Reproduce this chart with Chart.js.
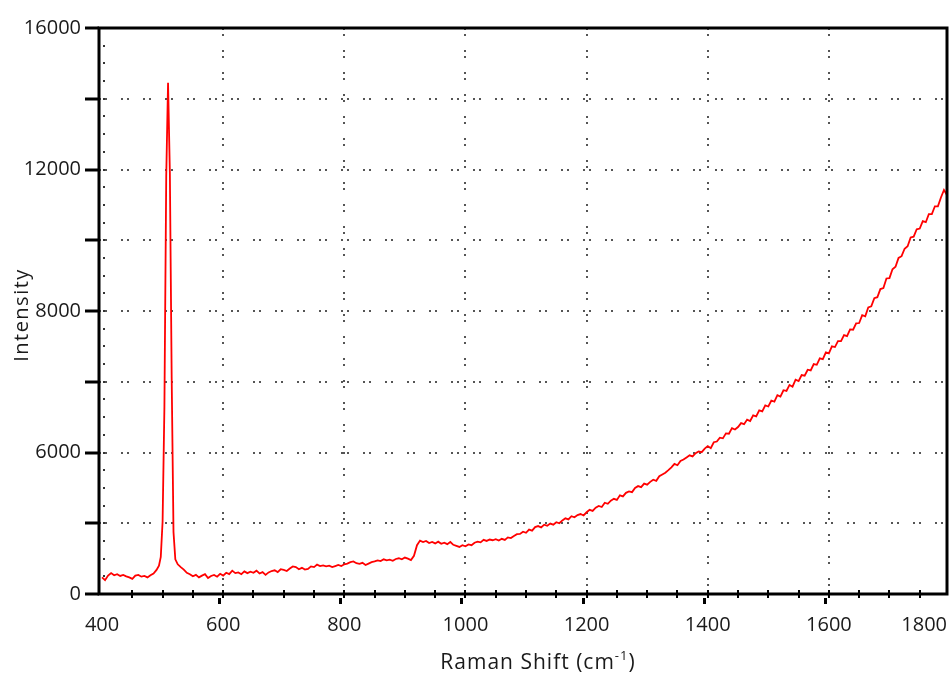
<!DOCTYPE html>
<html>
<head>
<meta charset="utf-8">
<script src="https://cdn.jsdelivr.net/npm/chart.js@4"></script>
<style>
  body { margin: 0; background: #fff; }
</style>
</head>
<body>
<canvas id="ramanChart" width="952" height="675"></canvas>
<script>
// Raman shift (cm-1)
const ramanShift = [
    400, 405, 410, 415, 420, 425, 430, 435, 440, 445,
    450, 455, 460, 465, 470, 475, 480, 485, 490,
    494, 497, 500, 503, 506, 509, 512, 515, 518, 521, 525,
    530, 535, 540, 545, 550, 555, 560, 565, 570, 575,
    580, 585, 590, 595, 600, 605, 610, 615, 620, 625,
    630, 635, 640, 645, 650, 655, 660, 665, 670, 675,
    680, 685, 690, 695, 700, 705, 710, 715, 720, 725,
    730, 735, 740, 745, 750, 755, 760, 765, 770, 775,
    780, 785, 790, 795, 800, 805, 810, 815, 820, 825,
    830, 835, 840, 845, 850, 855, 860, 865, 870, 875,
    880, 885, 890, 895, 900, 905, 910, 915, 920, 925,
    930, 935, 940, 945, 950, 955, 960, 965, 970, 975,
    980, 985, 990, 995, 1000, 1005, 1010, 1015, 1020, 1025,
    1030, 1035, 1040, 1045, 1050, 1055, 1060, 1065, 1070, 1075,
    1080, 1085, 1090, 1095, 1100, 1105, 1110, 1115, 1120, 1125,
    1130, 1135, 1140, 1145, 1150, 1155, 1160, 1165, 1170, 1175,
    1180, 1185, 1190, 1195, 1200, 1205, 1210, 1215, 1220, 1225,
    1230, 1235, 1240, 1245, 1250, 1255, 1260, 1265, 1270, 1275,
    1280, 1285, 1290, 1295, 1300, 1305, 1310, 1315, 1320, 1325,
    1330, 1335, 1340, 1345, 1350, 1355, 1360, 1365, 1370, 1375,
    1380, 1385, 1390, 1395, 1400, 1405, 1410, 1415, 1420, 1425,
    1430, 1435, 1440, 1445, 1450, 1455, 1460, 1465, 1470, 1475,
    1480, 1485, 1490, 1495, 1500, 1505, 1510, 1515, 1520, 1525,
    1530, 1535, 1540, 1545, 1550, 1555, 1560, 1565, 1570, 1575,
    1580, 1585, 1590, 1595, 1600, 1605, 1610, 1615, 1620, 1625,
    1630, 1635, 1640, 1645, 1650, 1655, 1660, 1665, 1670, 1675,
    1680, 1685, 1690, 1695, 1700, 1705, 1710, 1715, 1720, 1725,
    1730, 1735, 1740, 1745, 1750, 1755, 1760, 1765, 1770, 1775,
    1780, 1785, 1790, 1795
];

// Intensity, one value per shift above
const intensity = [
    470, 390, 520, 590, 530, 560, 510, 540, 500, 470,
    430, 520, 540, 490, 510, 470, 530, 580, 680,
    800, 1050, 2050, 5300, 11800, 14450, 11900, 6100, 1750, 980, 840,
    760, 690, 600, 560, 500, 540, 470, 520, 560, 450,
    510, 540, 490, 570, 520, 600, 560, 660, 590, 610,
    560, 640, 590, 630, 600, 660, 580, 620, 540, 610,
    650, 670, 620, 700, 680, 650, 720, 780, 760, 700,
    740, 690, 710, 780, 760, 830, 790, 810, 780, 800,
    760, 790, 820, 790, 840, 860, 900, 920, 870, 850,
    880, 820, 860, 900, 920, 950, 930, 980, 950, 970,
    940, 990, 1010, 980, 1030, 1000, 960, 1080, 1380, 1510,
    1470, 1500, 1440, 1470, 1430, 1480, 1420, 1450, 1410, 1470,
    1390, 1360, 1330, 1380, 1350, 1400, 1380, 1450, 1480, 1460,
    1530, 1500, 1540, 1520, 1550, 1510, 1560, 1530, 1600, 1580,
    1640, 1690, 1700, 1760, 1730, 1820, 1790, 1890, 1920, 1880,
    1960, 1930, 1990, 1960, 2030, 2000, 2080, 2140, 2110, 2200,
    2170, 2230, 2260, 2220, 2310, 2380, 2350, 2440, 2490, 2460,
    2580, 2550, 2640, 2690, 2660, 2790, 2760, 2860, 2900, 2880,
    3000, 3050, 3020, 3120, 3090, 3170, 3230, 3200, 3330, 3380,
    3430, 3500, 3580, 3680, 3640, 3760, 3800, 3860, 3920, 3890,
    3980, 4030, 4010, 4110, 4180, 4120, 4290, 4310, 4420, 4400,
    4540, 4530, 4690, 4650, 4720, 4830, 4800, 4930, 4890, 5050,
    5020, 5190, 5160, 5330, 5300, 5470, 5440, 5620, 5580, 5760,
    5740, 5910, 5860, 6060, 6020, 6190, 6170, 6340, 6320, 6500,
    6480, 6660, 6640, 6830, 6800, 7000, 6980, 7150, 7150, 7320,
    7290, 7480, 7470, 7650, 7660, 7880, 7850, 8100, 8130, 8360,
    8390, 8620, 8650, 8920, 8930, 9180, 9250, 9500, 9550, 9760,
    9830, 10080, 10100, 10310, 10330, 10540, 10510, 10740, 10740, 10960,
    10960, 11210, 11420, 11280
];

// Tick labels as printed on the original
const xTickValues = [400, 600, 800, 1000, 1200, 1400, 1600, 1800];
const xTickLabels = ['400', '600', '800', '1000', '1200', '1400', '1600', '1800'];
const yTickValues = [0, 4000, 8000, 12000, 16000];
const yTickLabels = ['0', '6000', '8000', '12000', '16000'];

const FONT = '"Open Sans", "Noto Sans", sans-serif';
const TEXT_COLOR = '#1a1a1a';

// Рамка, мелкие засечки, подписи осей
const axisDecor = {
    id: 'axisDecor',
    afterDraw(chart) {
        const ctx = chart.ctx;
        const a = chart.chartArea;
        const x = chart.scales.x;
        const y = chart.scales.y;
        ctx.save();

        // minor y ticks: small dots inside the frame
        ctx.fillStyle = '#333';
        for (let v = 500; v < 16000; v += 500) {
            const py = Math.round(y.getPixelForValue(v));
            ctx.fillRect(a.left + 4, py - 1, 2, 2);
        }

        // x ticks crossing the bottom line
        ctx.strokeStyle = '#000';
        ctx.lineWidth = 2;
        for (let v = 450; v < 1800; v += 50) {
            const px = Math.round(x.getPixelForValue(v));
            ctx.beginPath();
            ctx.moveTo(px, a.bottom - 4);
            ctx.lineTo(px, a.bottom + 4);
            ctx.stroke();
            if (v % 200 === 0) {
                ctx.fillStyle = '#000';
                ctx.fillRect(px - 5, a.bottom + 4, 3, 6);
            }
        }

        // frame
        ctx.lineWidth = 3;
        ctx.strokeRect(a.left, a.top, a.right - a.left, a.bottom - a.top);

        // x tick labels
        ctx.font = '20px ' + FONT;
        ctx.fillStyle = TEXT_COLOR;
        ctx.textBaseline = 'middle';
        xTickValues.forEach((v, i) => {
            const label = xTickLabels[i];
            const w = ctx.measureText(label).width;
            let px = x.getPixelForValue(v);
            if (px + w / 2 > a.right) px = a.right - w / 2;
            ctx.textAlign = 'center';
            ctx.fillText(label, px, a.bottom + 31);
        });

        // x title with superscript
        ctx.letterSpacing = '1px';
        const main = 'Raman Shift (cm';
        const sup = '-1';
        const tail = ')';
        ctx.font = '21px ' + FONT;
        const w1 = ctx.measureText(main).width;
        const w3 = ctx.measureText(tail).width;
        ctx.font = '13px ' + FONT;
        const w2 = ctx.measureText(sup).width;
        let tx = (a.left + a.right) / 2 + 15 - (w1 + w2 + w3) / 2;
        const ty = 663;
        ctx.textAlign = 'left';
        ctx.font = '21px ' + FONT;
        ctx.fillText(main, tx, ty);
        tx += w1;
        ctx.font = '13px ' + FONT;
        ctx.fillText(sup, tx, ty - 7);
        tx += w2;
        ctx.font = '21px ' + FONT;
        ctx.fillText(tail, tx, ty);

        // y title, rotated
        ctx.letterSpacing = '1.5px';
        ctx.font = '20px ' + FONT;
        ctx.translate(22, (a.top + a.bottom) / 2 + 4);
        ctx.rotate(-Math.PI / 2);
        ctx.textAlign = 'center';
        ctx.fillText('Intensity', 0, 0);

        ctx.restore();
    }
};

const points = ramanShift.map((s, i) => ({ x: s, y: intensity[i] }));

const ramanChart = new Chart(document.getElementById('ramanChart').getContext('2d'), {
    type: 'line',
    data: {
        datasets: [{
            label: 'Spectrum',
            data: points,
            borderColor: '#ff0000',
            borderWidth: 1.8,
            pointRadius: 0,
            tension: 0,
            fill: false
        }]
    },
    options: {
        responsive: false,
        animation: false,
        layout: {
            padding: { top: 28, right: 5, left: 0, bottom: 0 }
        },
        plugins: {
            legend: { display: false },
            tooltip: { enabled: false }
        },
        scales: {
            x: {
                type: 'linear',
                min: 395,
                max: 1795,
                afterBuildTicks: scale => {
                    scale.ticks = [600, 800, 1000, 1200, 1400, 1600].map(v => ({ value: v }));
                },
                afterFit: scale => { scale.height = 81; },
                ticks: { display: false },
                border: { display: false, dash: [2, 4, 2, 14] },
                grid: {
                    color: '#555',
                    lineWidth: 2,
                    drawTicks: false
                }
            },
            y: {
                min: 0,
                max: 16000,
                afterBuildTicks: scale => {
                    const t = [];
                    for (let v = 0; v <= 16000; v += 2000) t.push({ value: v });
                    scale.ticks = t;
                },
                afterFit: scale => { scale.width = 99; },
                ticks: {
                    padding: 4,
                    color: TEXT_COLOR,
                    font: { family: FONT, size: 20 },
                    callback: function(value) {
                        const i = yTickValues.indexOf(value);
                        return i >= 0 ? yTickLabels[i] : '';
                    }
                },
                border: { display: false, dash: [2, 4, 2, 14] },
                grid: {
                    color: '#555',
                    lineWidth: 2,
                    tickColor: '#000',
                    tickLength: 14,
                    tickWidth: 3
                },
                title: { display: false }
            }
        }
    },
    plugins: [axisDecor]
});
</script>
</body>
</html>
